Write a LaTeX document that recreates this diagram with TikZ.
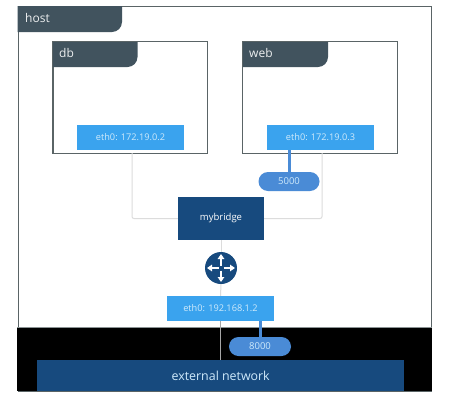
\documentclass[tikz,border=0pt]{standalone}
\usepackage{fontspec}
\setmainfont{Open Sans}
\usetikzlibrary{calc,arrows.meta}
\definecolor{tabc}{HTML}{41535E}
\definecolor{ethc}{HTML}{3AA3EE}
\definecolor{pillc}{HTML}{4A8BD6}
\definecolor{navy}{HTML}{174A7E}
\definecolor{framec}{HTML}{5A6466}
\definecolor{linkc}{HTML}{DCDCDC}
\definecolor{ethtxt}{HTML}{CFEAFB}
\tikzset{
  x=1pt,y=-1pt,
  boxnode/.style={draw=framec,line width=1pt,fill=white,minimum width=#1,minimum height=112pt,inner sep=0pt,anchor=north west},
  ethnode/.style={fill=ethc,text=ethtxt,minimum width=107pt,minimum height=25pt,inner sep=0pt,font=\fontsize{9.2}{11}\selectfont},
  pillnode/.style={fill=pillc,text=ethtxt,minimum width=61pt,minimum height=19pt,rounded corners=9.5pt,inner sep=0pt,font=\fontsize{9.5}{11}\selectfont},
  navynode/.style={fill=navy,text=white,inner sep=0pt},
  tabtext/.style={text=white!90!tabc,font=\fontsize{12}{14}\selectfont,anchor=west,inner sep=0pt},
  taillink/.style={draw=linkc,line width=1pt},
  portlink/.style={draw=pillc,line width=3pt},
  taplink/.style={draw=black!35,line width=1.2pt},
  tabshape/.style={fill=tabc},
  arrowtip/.style={-{Triangle[length=5pt,width=6.5pt]},draw=white,line width=1.8pt}
}
\begin{document}
\begin{tikzpicture}
\useasboundingbox (0,0) rectangle (450,402);
\fill[white] (0,0) rectangle (450,402);
% host
\node[draw=framec,line width=1.2pt,fill=white,minimum width=413.5pt,minimum height=385pt,inner sep=0pt,anchor=north west] (host) at (17.5,6) {};
\fill[black] (17,327) rectangle (431.5,391);
\draw[framec!70!white,line width=1pt] (17,327) -- (431.5,327);
\fill[tabshape] (17.5,6) -- (122,6) [rounded corners=10pt] -- (122,32) [sharp corners] -- (17.5,32) -- cycle;
\node[tabtext] (hostlabel) at (25,17.5) {host};
% containers
\node[boxnode=154.5pt] (db) at (52.5,41) {};
\node[boxnode=155pt] (web) at (242,41) {};
\fill[tabshape] (52.5,41) -- (137.5,41) [rounded corners=10pt] -- (137.5,67) [sharp corners] -- (52.5,67) -- cycle;
\fill[tabshape] (242,41) -- (328,41) [rounded corners=10pt] -- (328,67) [sharp corners] -- (242,67) -- cycle;
\draw[framec,line width=1pt] (52.5,41) rectangle (207,153);
\draw[framec,line width=1pt] (242,41) rectangle (397,153);
\node[tabtext] (dblabel) at (59,52.5) {db};
\node[tabtext] (weblabel) at (249,52.5) {web};
\node[ethnode] (ethdb) at (130.5,137.5) {eth0: 172.19.0.2};
\node[ethnode] (ethweb) at (320.5,137.5) {eth0: 172.19.0.3};
\node[pillnode] (p5000) at (289,181.5) {5000};
\node[navynode,minimum width=86pt,minimum height=43pt,font=\fontsize{9.5}{11}\selectfont] (bridge) at (221,218.5) {mybridge};
\node[ethnode,minimum width=107pt] (ethhost) at (220.5,308.5) {eth0: 192.168.1.2};
\node[pillnode,minimum width=62pt] (p8000) at (260,346.5) {8000};
\node[navynode,minimum width=367pt,minimum height=31pt,text=ethtxt,font=\fontsize{12.4}{14}\selectfont,anchor=north west] (ext) at (37,360) {external network};
\node[circle,fill=navy,minimum size=32pt,inner sep=0pt] (router) at (221,268) {};
% links
\draw[taillink,rounded corners=2pt] (132,153) |- (bridge.west);
\draw[taillink,rounded corners=2pt] (322,153) |- (bridge.east);
\draw[portlink] (ethweb.south -| p5000.north) -- (p5000.north);
\draw[portlink] (ethhost.south -| p8000.north) -- (p8000.north);
\draw[taillink] (bridge.south) -- (router.north);
\draw[taillink] (router.south) -- (ethhost.north);
\draw[taplink] (ethhost.south) -- (ethhost.south |- ext.north);
% router arrows
\draw[arrowtip] (router.center) ++(2.5,0) -- ++(11.5,0);
\draw[arrowtip] (router.center) ++(-2.5,0) -- ++(-11.5,0);
\draw[arrowtip] (router.center) ++(0,2.5) -- ++(0,11.5);
\draw[arrowtip] (router.center) ++(0,-2.5) -- ++(0,-11.5);
\end{tikzpicture}
\end{document}
